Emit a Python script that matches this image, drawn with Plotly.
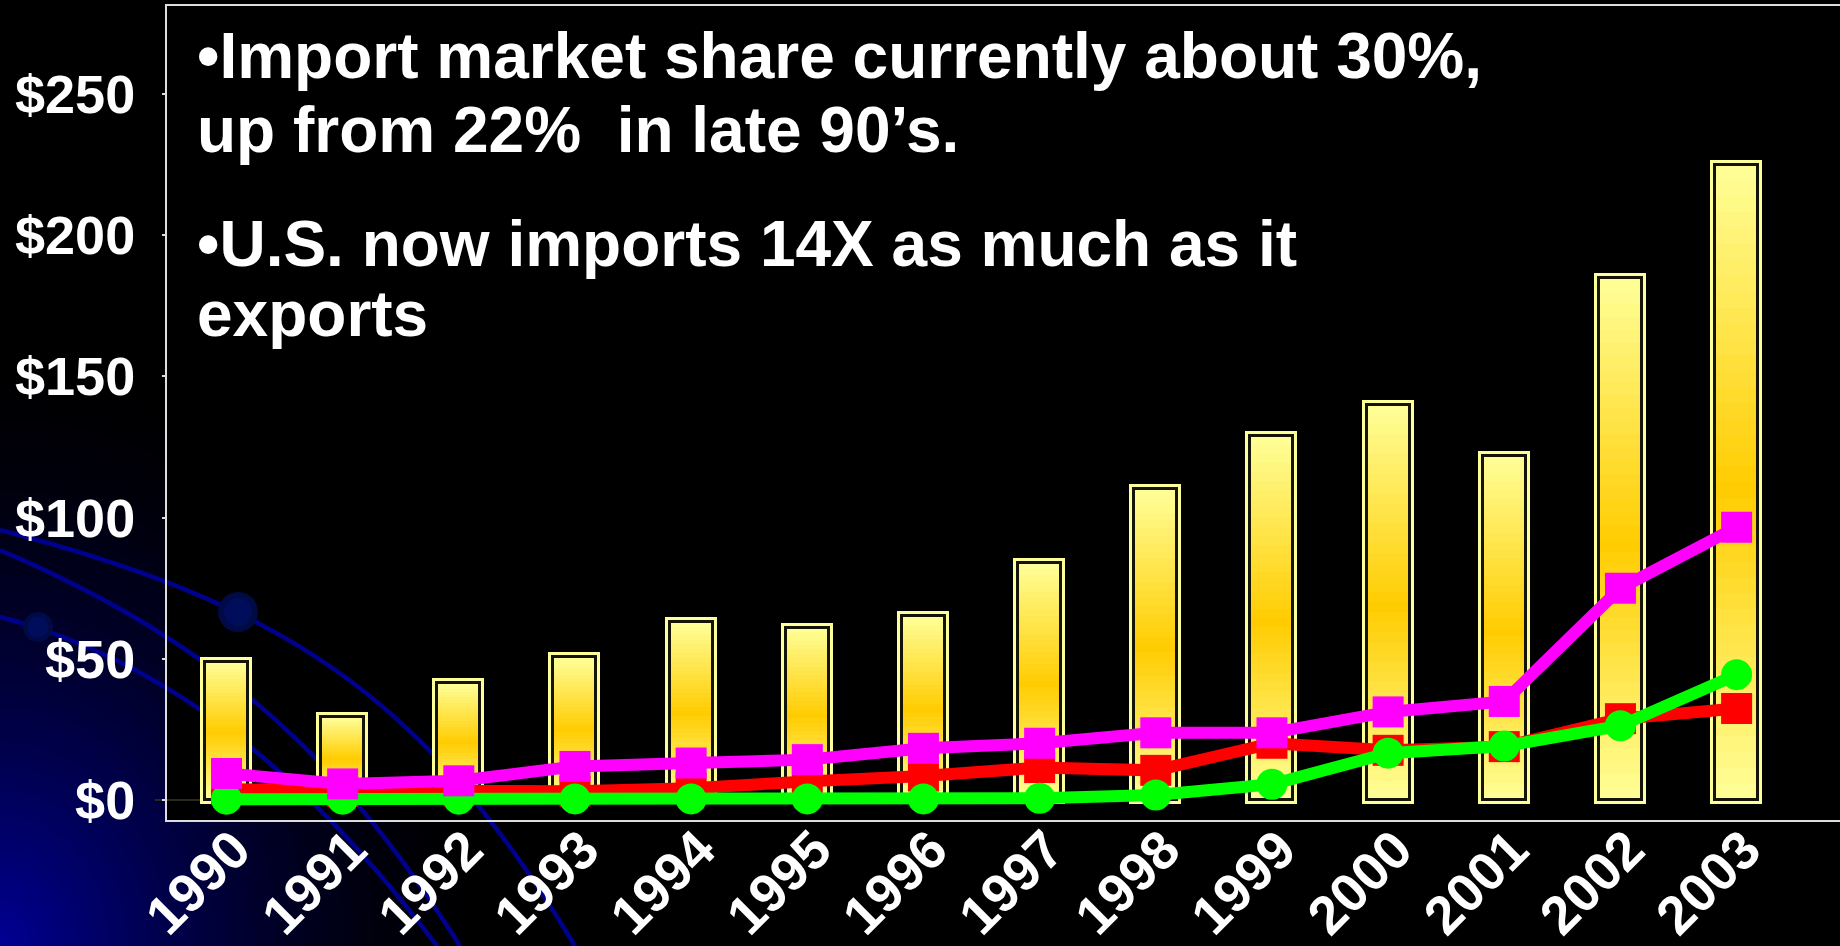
import plotly.graph_objects as go

# ---------------------------------------------------------------- data
years = list(range(1990, 2004))
year_labels = [str(y) for y in years]

# total imports ($ billions) shown as gold bars
total_imports = [49, 29.5, 41.5, 50.5, 63, 61, 65, 84, 110, 129, 140, 122, 185, 225]

# three line series
magenta_series = [9.4, 5.7, 6.8, 11.9, 13.1, 14.3, 18.3, 20.1, 23.8, 23.8, 31.2, 34.9, 75, 96.6]
red_series = [3.8, 3.0, 3.2, 3.1, 4.2, 6.6, 8.5, 11.5, 10.5, 20.1, 17.6, 18.9, 28.8, 32.4]
green_series = [0.3, 0.3, 0.3, 0.4, 0.4, 0.4, 0.4, 0.6, 1.8, 5.6, 16.6, 19.1, 26.3, 44.4]

y_tick_values = [0, 50, 100, 150, 200, 250]
y_tick_labels = ["$0", "$50", "$100", "$150", "$200", "$250"]

note_lines = [
    "\u2022Import market share currently about 30%,",
    "up from 22%\u00a0 in late 90\u2019s.",
    "\u2022U.S. now imports 14X as much as it",
    "exports",
]

# ---------------------------------------------------------------- geometry
W, H = 1840, 946
ML, MR, MT, MB = 167, 0, 6, 126
PW = W - ML - MR
PH = H - MT - MB
PLOT_BOTTOM = H - MB

FONT = "Arial, 'Liberation Sans', sans-serif"
BAR_WIDTH = 0.37
N_SLICES = 40
PALE = (255, 255, 153)
GOLD = (255, 204, 0)
PEAK = 0.49  # position of the deepest gold, as a fraction of bar height


def px_x(px):
    return (px - ML) / PW


def px_y(py):
    return (PLOT_BOTTOM - py) / PH


def mix(c1, c2, t):
    t = max(0.0, min(1.0, t))
    return "rgb(%d,%d,%d)" % tuple(round(a + (b - a) * t) for a, b in zip(c1, c2))


fig = go.Figure()

# outer pale-yellow rim of each bar (inner half gets covered by the fill)
fig.add_trace(go.Bar(
    x=years, y=total_imports, width=BAR_WIDTH,
    marker=dict(color="rgba(0,0,0,0)", line=dict(color="#FFFF99", width=9)),
    hoverinfo="skip", name="rim",
))

# vertical gold gradient: each bar is built from stacked slices
for k in range(N_SLICES):
    f = (k + 0.5) / N_SLICES
    if f < PEAK:
        t = (PEAK - f) / PEAK
    else:
        t = (f - PEAK) / (1 - PEAK)
    top = min(k + 1.6, N_SLICES)
    fig.add_trace(go.Bar(
        x=years,
        base=[v * k / N_SLICES for v in total_imports],
        y=[v * (top - k) / N_SLICES for v in total_imports],
        width=BAR_WIDTH,
        marker=dict(color=mix(GOLD, PALE, t), line=dict(width=0)),
        hoverinfo="skip", name="fill",
    ))

# dark inner outline
fig.add_trace(go.Bar(
    x=years, y=total_imports, width=BAR_WIDTH,
    marker=dict(color="rgba(0,0,0,0)", line=dict(color="#141408", width=3)),
    name="Imports",
))

# line series
LINE_W = 12
MARK = 31
fig.add_trace(go.Scatter(
    x=years, y=red_series, mode="lines+markers", name="red",
    line=dict(color="#FF0000", width=LINE_W),
    marker=dict(symbol="square", size=MARK, color="#FF0000"),
))
fig.add_trace(go.Scatter(
    x=years, y=green_series, mode="lines+markers", name="green",
    line=dict(color="#00FF00", width=LINE_W),
    marker=dict(symbol="circle", size=MARK, color="#00FF00"),
))
fig.add_trace(go.Scatter(
    x=years, y=magenta_series, mode="lines+markers", name="magenta",
    line=dict(color="#FF00FF", width=LINE_W),
    marker=dict(symbol="square", size=MARK, color="#FF00FF"),
))

# ---------------------------------------------------------------- background decoration
shapes = []
corner = dict(xref="paper", yref="paper", xsizemode="pixel", ysizemode="pixel",
              xanchor=-ML / PW, yanchor=-MB / PH, layer="below")

# navy glow in the lower-left corner (slightly taller than wide)
R_MAX = 600
for r in range(R_MAX, 0, -12):
    level = 150 * (1 - r / R_MAX) ** 1.6
    rx = r * 0.82
    shapes.append(dict(type="circle", x0=-rx, x1=rx, y0=-r, y1=r,
                       fillcolor="rgb(0,0,%d)" % round(level), line=dict(width=0), **corner))

# black plotting area
shapes.append(dict(type="rect", xref="paper", yref="paper", x0=0, x1=1, y0=0, y1=1,
                   fillcolor="black", line=dict(width=0), layer="below"))

# sweeping arcs (pixel offsets from the lower-left page corner, y upward)
arcs = [
    "M 0 416 C 285 342 425 250 575 0",
    "M 0 396 C 212 305 338 194 460 0",
    "M 0 329 C 184 281 323 152 437 0",
]
for p in arcs:
    shapes.append(dict(type="path", path=p, line=dict(color="#00008E", width=4.5), **corner))

# two small orbs on the arcs
for cx, cy, r in [(38, 946 - 627, 15), (238, 946 - 612, 20)]:
    shapes.append(dict(type="circle", x0=cx - r, x1=cx + r, y0=cy - r, y1=cy + r,
                       fillcolor="#000A45", line=dict(width=0), **corner))
    shapes.append(dict(type="circle", x0=cx - r * 0.7, x1=cx + r * 0.7, y0=cy - r * 0.7,
                       y1=cy + r * 0.7, fillcolor="#000D5A", line=dict(width=0), **corner))

# short dark baseline stub left of the value axis at zero
shapes.append(dict(type="line", xref="paper", yref="y", x0=px_x(155), x1=px_x(200),
                   y0=0, y1=0, line=dict(color="#2A2A1A", width=2), layer="below"))

# ---------------------------------------------------------------- notes
note_baselines = [78, 152, 266, 336]
NOTE_SIZE = 64
annotations = []
for text, base in zip(note_lines, note_baselines):
    annotations.append(dict(
        text=text, xref="paper", yref="paper",
        x=px_x(195), y=px_y(base - 0.3465 * NOTE_SIZE),
        xanchor="left", yanchor="middle", showarrow=False,
        font=dict(family=FONT, size=NOTE_SIZE, color="white", weight="bold"),
    ))

# ---------------------------------------------------------------- layout
tick_font = dict(family=FONT, size=54, color="white", weight="bold")

fig.update_layout(
    width=W, height=H,
    margin=dict(l=ML, r=MR, t=MT, b=MB, pad=0, autoexpand=False),
    paper_bgcolor="black",
    plot_bgcolor="rgba(0,0,0,0)",
    barmode="overlay",
    bargap=0,
    showlegend=False,
    shapes=shapes,
    annotations=annotations,
    font=dict(family=FONT, color="white"),
    xaxis=dict(
        range=[1989.488, 2003.89],
        tickmode="array", tickvals=years, ticktext=year_labels,
        tickangle=-45, tickfont=tick_font, automargin=False,
        ticklabelstandoff=-26, ticklabelshift=8,
        showline=True, linecolor="#DDDDDD", linewidth=2, mirror=True,
        ticks="", showgrid=False, zeroline=False,
    ),
    yaxis=dict(
        range=[-7.08, 281.2],
        tickmode="array", tickvals=y_tick_values, ticktext=y_tick_labels,
        tickfont=tick_font, automargin=False,
        showline=True, linecolor="#DDDDDD", linewidth=2,
        ticks="outside", ticklen=3, tickwidth=2, tickcolor="#DDDDDD",
        ticklabelstandoff=16,
        showgrid=False, zeroline=False,
    ),
)

fig.write_html("out.html")
